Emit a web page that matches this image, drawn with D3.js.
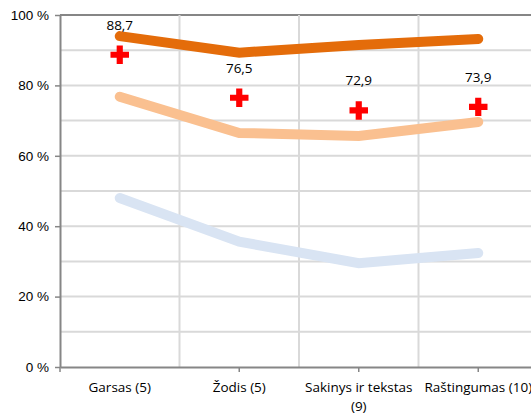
<!DOCTYPE html>
<html>
<head>
<meta charset="utf-8">
<script src="https://cdn.jsdelivr.net/npm/d3@7"></script>
<style>
  body { margin: 0; background: #fff; }
  svg { display: block; font-family: "Open Sans", "Noto Sans", sans-serif; }
</style>
</head>
<body>
<svg id="chart"></svg>
<script>
// chart data
const categories = ['Garsas (5)', 'Žodis (5)', 'Sakinys ir tekstas (9)', 'Raštingumas (10)'];
const categoryLines = [['Garsas (5)'], ['Žodis (5)'], ['Sakinys ir tekstas', '(9)'], ['Raštingumas (10)']];
const topSeries = [94, 89.3, 91.5, 93.2];
const midSeries = [76.8, 66.5, 65.6, 69.6];
const lowSeries = [48, 35.6, 29.5, 32.4];
const markerValues = [88.7, 76.5, 72.9, 73.9];
const markerLabels = ['88,7', '76,5', '72,9', '73,9'];
const yTicks = [0, 20, 40, 60, 80, 100];

const width = 531, height = 415;
const margin = { top: 15, left: 60, bottom: 48 };
const plotRight = 538;
const fontSize = 13.5;

const svg = d3.select('#chart')
    .attr('width', width)
    .attr('height', height);

const x = d3.scaleBand()
    .domain(categories)
    .range([margin.left, plotRight]);

const y = d3.scaleLinear()
    .domain([0, 100])
    .range([height - margin.bottom, margin.top]);

const xc = d => x(d) + x.bandwidth() / 2;

// horizontal gridlines every 10 %
svg.append('g')
    .selectAll('line')
    .data(d3.range(10, 101, 10))
    .join('line')
    .attr('x1', margin.left)
    .attr('x2', plotRight)
    .attr('y1', d => y(d))
    .attr('y2', d => y(d))
    .attr('stroke', d => d === 100 ? '#868686' : '#d9d9d9')
    .attr('stroke-width', 2);

// vertical gridlines at category boundaries
svg.append('g')
    .selectAll('line')
    .data(categories.slice(1))
    .join('line')
    .attr('x1', d => x(d))
    .attr('x2', d => x(d))
    .attr('y1', y(100))
    .attr('y2', y(0))
    .attr('stroke', '#d9d9d9')
    .attr('stroke-width', 2);

// y axis
const yAxis = d3.axisLeft(y)
    .tickValues(yTicks)
    .tickSize(5)
    .tickSizeOuter(0)
    .tickPadding(6)
    .tickFormat(d => d + ' %');

const yAxisG = svg.append('g')
    .attr('transform', `translate(${margin.left},0)`)
    .call(yAxis);

// x axis
const xAxis = d3.axisBottom(x)
    .tickValues(categories.slice(1))
    .tickSize(5)
    .tickSizeOuter(0)
    .tickFormat('');

const xAxisG = svg.append('g')
    .attr('transform', `translate(0,${y(0)})`)
    .call(xAxis);

xAxisG.append('line')
    .attr('class', 'first-tick')
    .attr('x1', margin.left).attr('x2', margin.left)
    .attr('y1', 0).attr('y2', 5);

[yAxisG, xAxisG].forEach(g => {
    g.selectAll('.domain').attr('stroke', '#868686').attr('stroke-width', 2);
    g.selectAll('.tick line, .first-tick').attr('stroke', '#868686').attr('stroke-width', 1.5);
    g.selectAll('.tick text').attr('fill', '#000').attr('font-size', fontSize);
});

// category labels
const catLabels = svg.append('g')
    .selectAll('text')
    .data(categories)
    .join('text')
    .attr('x', d => xc(d))
    .attr('y', y(0) + 25)
    .attr('text-anchor', 'middle')
    .attr('font-size', fontSize)
    .attr('fill', '#000');

catLabels.each(function (d, i) {
    d3.select(this).selectAll('tspan')
        .data(categoryLines[i])
        .join('tspan')
        .attr('x', xc(d))
        .attr('dy', (t, j) => j === 0 ? 0 : 19)
        .text(t => t);
});

// series lines
const line = d3.line()
    .x((d, i) => xc(categories[i]))
    .y(d => y(d));

const series = [
    { values: lowSeries, color: '#d9e4f3' },
    { values: midSeries, color: '#fac090' },
    { values: topSeries, color: '#e46c0a' }
];

svg.append('g')
    .selectAll('path')
    .data(series)
    .join('path')
    .attr('d', d => line(d.values))
    .attr('fill', 'none')
    .attr('stroke', d => d.color)
    .attr('stroke-width', 10)
    .attr('stroke-linecap', 'round')
    .attr('stroke-linejoin', 'miter');

// red cross markers
const cross = d3.symbol().type(d3.symbolCross).size(190);

svg.append('g')
    .selectAll('path')
    .data(markerValues)
    .join('path')
    .attr('transform', (d, i) => `translate(${xc(categories[i])},${y(d)})`)
    .attr('d', cross)
    .attr('fill', '#ff0000');

svg.append('g')
    .selectAll('text')
    .data(markerValues)
    .join('text')
    .attr('x', (d, i) => xc(categories[i]))
    .attr('y', d => y(d) - 25)
    .attr('text-anchor', 'middle')
    .attr('font-size', fontSize)
    .attr('fill', '#000')
    .text((d, i) => markerLabels[i]);
</script>
</body>
</html>
